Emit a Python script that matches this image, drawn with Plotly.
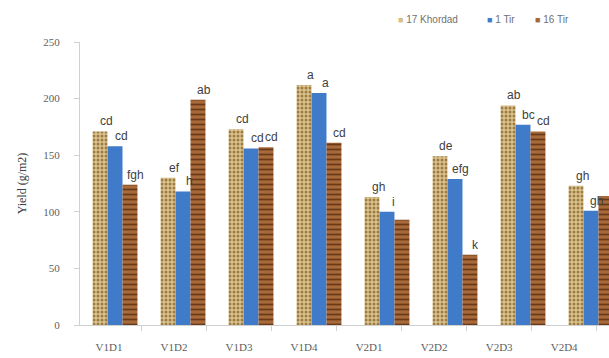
import plotly.graph_objects as go

# Treatments (variety x density) and sowing dates
treatments = ["V1D1", "V1D2", "V1D3", "V1D4", "V2D1", "V2D2", "V2D3", "V2D4"]
dates = ["17 Khordad", "1 Tir", "16 Tir"]

# Yield (g/m2) per sowing date
yield_khordad17 = [171, 130, 173, 212, 113, 149, 194, 123]
yield_tir1 = [158, 118, 156, 205, 100, 129, 177, 101]
yield_tir16 = [124, 199, 157, 161, 93, 62, 171, 114]

# Duncan grouping letters
letters_khordad17 = ["cd", "ef", "cd", "a", "gh", "de", "ab", "gh"]
letters_tir1 = ["cd", "h", "cd", "a", "i", "efg", "bc", "gh"]
letters_tir16 = ["fgh", "ab", "cd", "cd", "", "k", "cd", ""]

series_colors = ["#d8bf88", "#3f7bc8", "#a5673a"]

series = [
    (dates[0], yield_khordad17, letters_khordad17,
     dict(color=series_colors[0], pattern=dict(shape=".", bgcolor="#dcc48e", fgcolor="#9c7c44",
                                               size=4, solidity=0.45, fillmode="replace"))),
    (dates[1], yield_tir1, letters_tir1,
     dict(color=series_colors[1])),
    (dates[2], yield_tir16, letters_tir16,
     dict(color=series_colors[2], pattern=dict(shape="-", bgcolor="#a86a3a", fgcolor="#6a3a18",
                                               size=5, solidity=0.35, fillmode="replace"))),
]

BARGAP = 0.34
bar_frac = (1 - BARGAP) / len(series)

fig = go.Figure()
annotations = []
for k, (name, vals, letters, marker) in enumerate(series):
    fig.add_trace(go.Bar(
        name=name, x=treatments, y=vals, marker=marker,
        marker_line_width=0, xaxis="x", yaxis="y", showlegend=False,
    ))
    offset = (k - 1) * bar_frac
    for j, (v, t) in enumerate(zip(vals, letters)):
        if not t:
            continue
        annotations.append(dict(
            x=j + offset, y=v, xref="x", yref="y", text=t, showarrow=False,
            xanchor="center", yanchor="bottom", xshift=6, yshift=1,
            font=dict(family="Liberation Sans, Arial", size=12, color="#404040"),
        ))

# compact legend row above the plot: coloured square + sowing date
legend_x = [0.597, 0.766, 0.856]
for name, col, lx in zip(dates, series_colors, legend_x):
    annotations.append(dict(
        x=lx, y=1.08, xref="paper", yref="paper", xanchor="left", yanchor="middle",
        showarrow=False,
        text=f'<span style="color:{col}; font-size:9px">■</span> {name}',
        font=dict(family="Liberation Sans, Arial", size=10, color="#707070"),
    ))

# invisible carrier trace for the labelled category axis
fig.add_trace(go.Scatter(
    x=treatments, y=[0] * len(treatments), xaxis="x2", yaxis="y",
    mode="markers", marker=dict(opacity=0), showlegend=False, hoverinfo="skip",
))

axis_font = dict(family="Liberation Serif, Times New Roman", size=11, color="#606060")

fig.update_layout(
    width=609, height=358,
    margin=dict(l=80, r=0, t=42, b=33),
    paper_bgcolor="white", plot_bgcolor="white",
    barmode="group", bargap=BARGAP, bargroupgap=0,
    annotations=annotations,
    showlegend=False,
    xaxis=dict(
        type="category", categoryorder="array", categoryarray=treatments,
        range=[-0.515, 7.265], showticklabels=False, ticks="", showline=False,
        showgrid=False, zeroline=False,
    ),
    xaxis2=dict(
        type="category", categoryorder="array", categoryarray=treatments,
        overlaying="x", side="bottom", range=[-0.446, 7.69],
        showline=True, linecolor="#d0d0d0", linewidth=1,
        ticks="outside", tickson="boundaries", ticklen=5, tickcolor="#d0d0d0",
        showgrid=False, zeroline=False, tickfont=axis_font, ticklabelstandoff=12,
    ),
    yaxis=dict(
        range=[0, 250], dtick=50, showgrid=False, zeroline=False,
        showline=True, linecolor="#d0d0d0", linewidth=1,
        ticks="outside", ticklen=5, tickcolor="#d0d0d0",
        tickfont=axis_font, ticklabelstandoff=12,
        title=dict(text="Yield (g/m2)", font=dict(family="Liberation Serif, Times New Roman",
                                                  size=12, color="#404040"), standoff=14),
    ),
)

fig.write_html("out.html")
